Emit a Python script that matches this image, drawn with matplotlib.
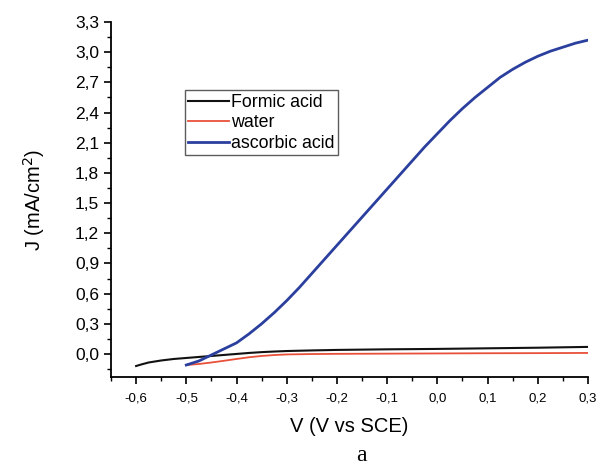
import matplotlib
matplotlib.use('Agg')
import matplotlib.pyplot as plt
from matplotlib.ticker import MultipleLocator, FuncFormatter

plt.rcParams['font.family'] = ['Liberation Sans', 'DejaVu Sans']

# --- J-V curves (V vs SCE, J in mA/cm2) ---
v_formic = [-0.600, -0.590, -0.575, -0.550, -0.525, -0.500, -0.475, -0.450, -0.425, -0.400,
            -0.375, -0.350, -0.325, -0.300, -0.250, -0.200, -0.100, 0.000, 0.100, 0.200, 0.300]
j_formic = [-0.120, -0.105, -0.085, -0.065, -0.050, -0.040, -0.030, -0.020, -0.010, 0.000,
            0.010, 0.018, 0.024, 0.029, 0.035, 0.040, 0.046, 0.050, 0.056, 0.062, 0.070]

v_water = [-0.500, -0.475, -0.450, -0.425, -0.400, -0.375, -0.350, -0.325, -0.300, -0.250,
           -0.200, -0.100, 0.000, 0.100, 0.200, 0.300]
j_water = [-0.110, -0.100, -0.085, -0.068, -0.050, -0.033, -0.020, -0.011, -0.005, -0.001,
           0.001, 0.003, 0.005, 0.007, 0.008, 0.010]

v_ascorbic = [-0.500, -0.475, -0.450, -0.425, -0.400, -0.375, -0.350, -0.325, -0.300, -0.275,
              -0.250, -0.225, -0.200, -0.175, -0.150, -0.125, -0.100, -0.075, -0.050, -0.025,
              0.000, 0.025, 0.050, 0.075, 0.100, 0.125, 0.150, 0.175, 0.200, 0.225, 0.250,
              0.275, 0.300]
j_ascorbic = [-0.11, -0.07, -0.01, 0.05, 0.11, 0.20, 0.30, 0.41, 0.53, 0.66,
              0.80, 0.94, 1.08, 1.22, 1.36, 1.50, 1.64, 1.78, 1.92, 2.06,
              2.19, 2.32, 2.44, 2.55, 2.65, 2.75, 2.83, 2.90, 2.96, 3.01, 3.05,
              3.09, 3.12]

series_labels = ['Formic acid', 'water', 'ascorbic acid']

fig = plt.figure(figsize=(6.0, 4.69), dpi=100)
ax = fig.add_axes([0.185, 0.196, 0.795, 0.757])

ax.plot(v_formic, j_formic, color='#111111', lw=1.5, label=series_labels[0])
ax.plot(v_water, j_water, color='#e8503a', lw=1.3, label=series_labels[1])
ax.plot(v_ascorbic, j_ascorbic, color='#2b3f9e', lw=2.0, label=series_labels[2])

ax.set_xlim(-0.65, 0.3)
ax.set_ylim(-0.23, 3.3)

ax.spines['top'].set_visible(False)
ax.spines['right'].set_visible(False)
ax.spines['left'].set_linewidth(1.3)
ax.spines['bottom'].set_linewidth(1.3)

ax.xaxis.set_major_locator(MultipleLocator(0.1))
ax.xaxis.set_minor_locator(MultipleLocator(0.05))
ax.yaxis.set_major_locator(MultipleLocator(0.3))
ax.yaxis.set_minor_locator(MultipleLocator(0.15))

# decimal comma on both axes
comma = FuncFormatter(lambda v, pos: f'{v:.1f}'.replace('.', ',').replace('-0,0', '0,0'))
ax.xaxis.set_major_formatter(comma)
ax.yaxis.set_major_formatter(comma)

ax.tick_params(which='major', direction='out', length=5, width=1.2)
ax.tick_params(which='minor', direction='out', length=3, width=1.0)
ax.tick_params(axis='x', labelsize=9.5, pad=6)
ax.tick_params(axis='y', labelsize=12.5)

ax.set_xlabel('V (V vs SCE)', fontsize=14.5, labelpad=9)
ax.set_ylabel('J (mA/cm$^2$)', fontsize=14.5, labelpad=20)

leg = ax.legend(loc='upper left', bbox_to_anchor=(0.155, 0.808), frameon=True, fancybox=False,
                edgecolor='#333333', fontsize=12.8, handlelength=2.3, handletextpad=0.1,
                labelspacing=0.2, borderpad=0.2, borderaxespad=0)
leg.get_frame().set_linewidth(1.0)

fig.text(0.603, 0.018, 'a', family=['Liberation Serif', 'DejaVu Serif'], fontsize=17, ha='center')

fig.savefig('out.png', dpi=100)
